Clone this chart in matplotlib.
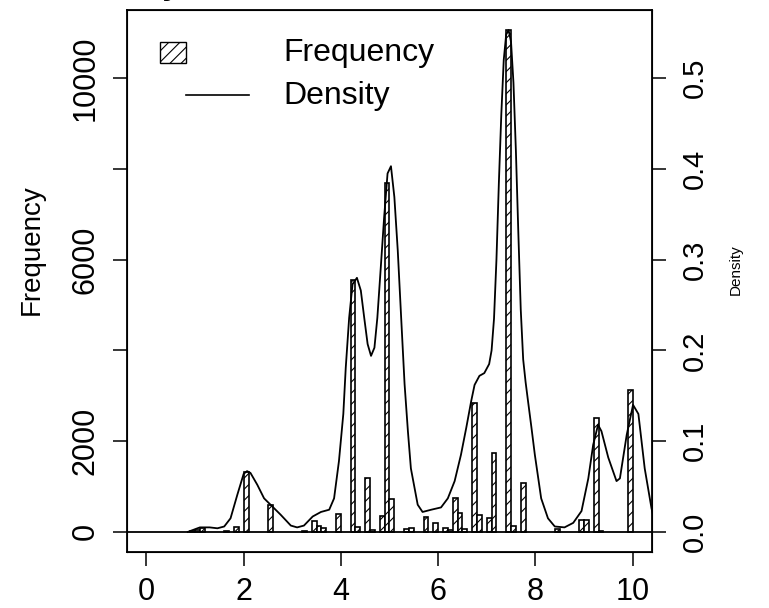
import numpy as np
import matplotlib
matplotlib.use('Agg')
import matplotlib.pyplot as plt
from matplotlib.patches import Rectangle
from matplotlib.lines import Line2D

plt.rcParams['font.family'] = ['Liberation Sans', 'DejaVu Sans']
plt.rcParams['hatch.linewidth'] = 0.8

# histogram bins (left edge, width 0.1) and counts
bin_left = [0.9, 1.0, 1.1, 1.6, 1.8, 2.0, 2.5, 3.2, 3.4, 3.5, 3.6, 3.9,
            4.2, 4.3, 4.5, 4.6, 4.8, 4.9, 5.0, 5.3, 5.4, 5.7, 5.9, 6.1,
            6.2, 6.3, 6.4, 6.5, 6.7, 6.8, 7.0, 7.1, 7.4, 7.5, 7.7, 8.4,
            8.9, 9.0, 9.2, 9.3, 9.9]
counts = [20, 40, 90, 20, 110, 1320, 600, 30, 230, 130, 80, 390,
          5560, 100, 1180, 50, 360, 7690, 720, 60, 80, 320, 190, 90,
          40, 740, 420, 70, 2850, 380, 300, 1740, 11060, 140, 1080, 60,
          260, 260, 2500, 30, 3130]
bin_width = 0.1

# density curve
dens_x = [0.85, 0.9, 1.0, 1.1, 1.3, 1.46, 1.6, 1.73, 1.87, 2.0, 2.07, 2.14,
          2.28, 2.42, 2.59, 2.76, 2.97, 3.1, 3.24, 3.42, 3.59, 3.76, 3.86,
          3.96, 4.05, 4.1, 4.17, 4.24, 4.33, 4.41, 4.48, 4.55, 4.62, 4.69,
          4.75, 4.82, 4.89, 4.96, 5.03, 5.1, 5.17, 5.24, 5.31, 5.38, 5.44,
          5.58, 5.68, 5.86, 6.06, 6.2, 6.34, 6.47, 6.58, 6.68, 6.75, 6.85,
          6.95, 7.05, 7.1, 7.15, 7.2, 7.25, 7.3, 7.35, 7.4, 7.45, 7.5, 7.55,
          7.6, 7.65, 7.7, 7.75, 7.8, 7.85, 7.92, 7.99, 8.12, 8.26, 8.4, 8.6,
          8.78, 8.95, 9.09, 9.19, 9.29, 9.36, 9.5, 9.67, 9.74, 9.88, 10.01,
          10.12, 10.25, 10.39, 10.45]
dens_y = [0.0, 0.001, 0.003, 0.005, 0.005, 0.004, 0.006, 0.015, 0.041, 0.064,
          0.067, 0.065, 0.052, 0.037, 0.028, 0.019, 0.007, 0.005, 0.007,
          0.017, 0.022, 0.0245, 0.037, 0.078, 0.13, 0.181, 0.236, 0.273,
          0.280, 0.266, 0.236, 0.207, 0.194, 0.203, 0.236, 0.291, 0.347,
          0.395, 0.403, 0.369, 0.31, 0.236, 0.163, 0.11, 0.07, 0.030, 0.022,
          0.0245, 0.027, 0.037, 0.056, 0.085, 0.115, 0.144, 0.162, 0.172,
          0.175, 0.185, 0.2, 0.235, 0.30, 0.385, 0.46, 0.52, 0.548, 0.553,
          0.54, 0.495, 0.42, 0.33, 0.245, 0.19, 0.165, 0.144, 0.115, 0.085,
          0.037, 0.015, 0.006, 0.005, 0.01, 0.023, 0.059, 0.096, 0.118,
          0.111, 0.082, 0.056, 0.059, 0.107, 0.14, 0.13, 0.07, 0.026, 0.012]

freq_ticks = [0, 2000, 4000, 6000, 8000, 10000]
freq_labels = ['0', '2000', '', '6000', '', '10000']
dens_ticks = [0.0, 0.1, 0.2, 0.3, 0.4, 0.5]
x_ticks = [0, 2, 4, 6, 8, 10]

W, H = 769, 608
fig = plt.figure(figsize=(W / 100, H / 100), dpi=100)
ax = fig.add_axes([127 / W, 1 - 552 / H, (652 - 127) / W, (552 - 10) / H])

ax.bar(bin_left, counts, width=bin_width, align='edge', facecolor='white',
       edgecolor='black', hatch='///', linewidth=1.2)
ax.axhline(0, color='black', linewidth=1.3)

fmax = max(counts)
ax.set_xlim(-0.4, 10.4)
ax.set_ylim(-0.04 * fmax, 1.04 * fmax)
ax.set_xticks(x_ticks)
ax.set_xticklabels([str(t) for t in x_ticks])
ax.set_yticks(freq_ticks)
ax.set_yticklabels(freq_labels, rotation=90, va='center')
ax.tick_params(axis='both', direction='out', length=10, width=1.1,
               labelsize=22, color='black')
ax.tick_params(axis='x', pad=8)
ax.tick_params(axis='y', pad=9)
for sp in ax.spines.values():
    sp.set_linewidth(1.3)

ax2 = ax.twinx()
ax2.plot(dens_x, dens_y, color='black', linewidth=1.3)
dmax = max(dens_y)
ax2.set_xlim(-0.4, 10.4)
ax2.set_ylim(-0.04 * dmax, 1.04 * dmax)
ax2.set_yticks(dens_ticks)
ax2.set_yticklabels(['%.1f' % t for t in dens_ticks], rotation=90, va='center')
ax2.tick_params(axis='y', direction='out', length=10, width=1.1,
                labelsize=21, pad=11)

# axis titles
fig.text(32 / W, 1 - 250 / H, 'Frequency', rotation=90, ha='center',
         va='center', fontsize=20)
fig.text(736 / W, 1 - 270 / H, 'Density', rotation=90, ha='center',
         va='center', fontsize=11)

# title, mostly outside the picture (only the tail of the "y" shows)
fig.text(182 / W, 1 - 1 / H, 'Density', ha='right', va='bottom',
         fontsize=24, fontweight='bold')

# legend
box = Rectangle((160 / W, 1 - 63 / H), 26 / W, 21 / H, transform=fig.transFigure,
                facecolor='white', edgecolor='black', hatch='///', linewidth=1.0)
fig.add_artist(box)
fig.add_artist(Line2D([186 / W, 249 / W], [1 - 95 / H, 1 - 95 / H],
                      transform=fig.transFigure, color='black', linewidth=1.2))
fig.text(283 / W, 1 - 53 / H, 'Frequency', ha='left', va='center', fontsize=23)
fig.text(283 / W, 1 - 96 / H, 'Density', ha='left', va='center', fontsize=23)

fig.savefig('out.png', dpi=100)
